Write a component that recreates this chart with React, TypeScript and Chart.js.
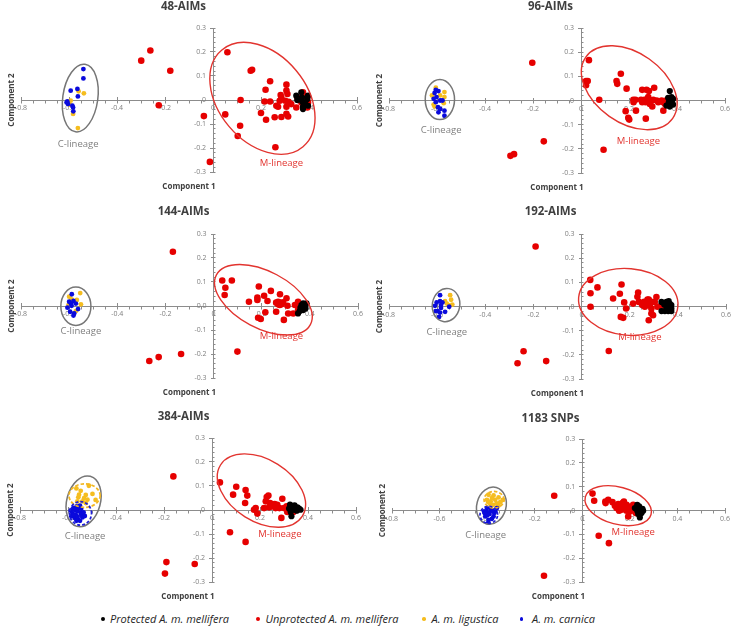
import React, { useEffect, useRef } from 'react';
import { Chart, registerables } from 'chart.js';

Chart.register(...registerables);
Chart.defaults.font.family = '"Open Sans", sans-serif';

type Pt = [number, number];
type Ell = { kind: string; cx: number; cy: number; rx: number; ry: number; rot: number };

// ---------- text ----------
const panelTitles = ['48-AIMs', '96-AIMs', '144-AIMs', '192-AIMs', '384-AIMs', '1183 SNPs'];
const seriesNames = ['Protected A. m. mellifera', 'Unprotected A. m. mellifera', 'A. m. ligustica', 'A. m. carnica'];
const xAxisTitle = 'Component 1';
const yAxisTitle = 'Component 2';
const cLineageText = 'C-lineage';
const mLineageText = 'M-lineage';

// ---------- ticks ----------
const xMajorTicks = [-0.8, -0.6, -0.4, -0.2, 0, 0.2, 0.4, 0.6];
const xTickLabels = ['-0.8', '-0.6', '-0.4', '-0.2', '0', '0.2', '0.4', '0.6'];
const yMajorTicks = [-0.3, -0.2, -0.1, 0, 0.1, 0.2, 0.3];
const yTickLabels = ['-0.3', '-0.2', '-0.1', '0', '0.1', '0.2', '0.3'];
const yTickLabels144 = ['-0.3', '-0.2', '-0.1', '0.0', '0.1', '0.2', '0.3'];
const xMinorParts = 4;
const yMinorParts = 5;

// ---------- 48-AIMs ----------
const protected48: Pt[] = [[0.347,0.018],[0.351,0],[0.368,0.032],[0.371,0.011],[0.372,-0.007],[0.375,-0.028],[0.375,-0.038],[0.393,0.004],[0.396,-0.024],[0.396,0.018],[0.385,-0.017]];
const unprotected48: Pt[] = [[-0.299,0.164],[-0.261,0.206],[-0.178,0.122],[-0.226,-0.022],[-0.038,-0.067],[-0.013,-0.258],[0.06,0.199],[0.051,-0.06],[0.115,0.0],[0.113,-0.107],[0.103,-0.15],[0.157,0.122],[0.163,0.126],[0.238,0.078],[0.219,0.043],[0.215,-0.006],[0.2,-0.054],[0.221,-0.082],[0.238,-0.006],[0.26,-0.197],[0.257,-0.072],[0.264,-0.024],[0.271,-0.028],[0.285,-0.071],[0.306,0.064],[0.306,0.039],[0.31,0.025],[0.282,0.021],[0.285,0.008],[0.301,-0.003],[0.306,-0.028],[0.306,-0.058],[0.313,-0.069],[0.326,-0.017],[0.347,-0.031],[0.351,0.011],[0.368,-0.01],[0.375,0.032],[0.385,0.0],[0.393,0.014],[0.396,-0.01],[0.393,-0.031],[0.278,-0.003],[0.315,-0.007]];
const ligustica48: Pt[] = [[-0.538,0.028],[-0.56,0.036],[-0.593,-0.003],[-0.583,-0.058],[-0.563,-0.117],[-0.597,-0.019]];
const carnica48: Pt[] = [[-0.54,0.129],[-0.54,0.09],[-0.593,0.039],[-0.565,0.046],[-0.563,0.015],[-0.607,-0.006],[-0.604,-0.017],[-0.586,-0.024],[-0.583,-0.031],[-0.582,-0.047],[-0.61,-0.01]];
const ellipses48: Ell[] = [{ kind: 'C', cx: -0.553, cy: 0.008, rx: 0.073, ry: 0.142, rot: -8 }, { kind: 'M', cx: 0.206, cy: 0.007, rx: 0.263, ry: 0.182, rot: -50 }];
const cLabel48: Pt = [-0.562, -0.186];
const mLabel48: Pt = [0.285, -0.263];

// ---------- 96-AIMs ----------
const protected96: Pt[] = [[0.37,0.039],[0.363,0.011],[0.366,-0.007],[0.37,-0.025],[0.377,0.014],[0.38,0.0],[0.384,-0.017],[0.374,0.003],[0.356,-0.021],[0.384,0.007]];
const unprotected96: Pt[] = [[-0.203,0.156],[-0.294,-0.229],[-0.279,-0.222],[-0.155,-0.169],[0.094,-0.204],[0.033,0.167],[0.021,0.081],[0.028,0.081],[0.021,0.063],[0.076,0.003],[0.148,0.081],[0.151,0.069],[0.166,0.111],[0.19,0.049],[0.186,-0.044],[0.197,-0.072],[0.201,-0.079],[0.218,0.003],[0.219,-0.007],[0.229,-0.042],[0.255,0.044],[0.273,0.044],[0.283,0.039],[0.305,0.053],[0.27,-0.075],[0.264,0.003],[0.269,-0.007],[0.277,0.007],[0.287,-0.014],[0.294,0.0],[0.297,-0.025],[0.315,0.0],[0.322,-0.007],[0.343,-0.042],[0.343,-0.007],[0.354,0.0],[0.361,-0.017],[0.336,0.0],[0.255,-0.007],[0.25,0.003],[0.227,0.003],[0.28,0.014],[0.301,0.003],[0.35,-0.014]];
const ligustica96: Pt[] = [[-0.605,0.053],[-0.569,0.035],[-0.569,0.014],[-0.572,-0.011],[-0.614,-0.017],[-0.621,0.021],[-0.587,0.021],[-0.61,-0.025]];
const carnica96: Pt[] = [[-0.61,0.031],[-0.605,0.044],[-0.594,0.039],[-0.602,0.014],[-0.587,0.0],[-0.605,-0.007],[-0.596,-0.028],[-0.587,-0.035],[-0.569,-0.042],[-0.569,-0.063],[-0.594,-0.049],[-0.577,0.0],[-0.614,0.007]];
const ellipses96: Ell[] = [{ kind: 'C', cx: -0.588, cy: 0.004, rx: 0.061, ry: 0.083, rot: 0 }, { kind: 'M', cx: 0.201, cy: 0.053, rx: 0.221, ry: 0.145, rot: -35 }];
const cLabel96: Pt = [-0.583, -0.125];
const mLabel96: Pt = [0.239, -0.169];

// ---------- 144-AIMs ----------
const protected144: Pt[] = [[0.365,0.004],[0.372,0.011],[0.379,0.004],[0.382,-0.01],[0.372,-0.017],[0.358,-0.021],[0.351,-0.031],[0.361,-0.007],[0.386,0.011]];
const unprotected144: Pt[] = [[-0.169,0.226],[-0.267,-0.229],[-0.228,-0.213],[-0.135,-0.2],[0.099,-0.19],[0.036,0.106],[0.076,0.106],[0.049,0.076],[0.046,0.046],[0.147,0.018],[0.188,0.081],[0.182,0.035],[0.182,0.025],[0.21,0.043],[0.224,0.021],[0.215,-0.026],[0.238,0.063],[0.185,-0.049],[0.196,-0.054],[0.276,0.049],[0.26,0.014],[0.268,0.007],[0.275,0.014],[0.282,0.007],[0.289,0.015],[0.26,-0.024],[0.292,-0.058],[0.303,0.032],[0.307,0.001],[0.31,-0.031],[0.331,-0.031],[0.338,0.004],[0.351,0.018],[0.351,-0.017],[0.372,-0.007],[0.275,0.004],[0.268,0.018]];
const ligustica144: Pt[] = [[-0.554,0.054],[-0.6,0.039],[-0.568,0.025],[-0.551,0.007],[-0.59,0.028],[-0.572,-0.021],[-0.603,0.004]];
const carnica144: Pt[] = [[-0.589,0.049],[-0.6,0.018],[-0.593,0.011],[-0.582,0.021],[-0.572,0.01],[-0.607,-0.007],[-0.596,-0.024],[-0.579,-0.031],[-0.582,-0.04],[-0.563,-0.013],[-0.59,0.001]];
const ellipses144: Ell[] = [{ kind: 'C', cx: -0.572, cy: -0.001, rx: 0.0625, ry: 0.08, rot: 0 }, { kind: 'M', cx: 0.207, cy: 0.026, rx: 0.221, ry: 0.118, rot: -28 }];
const cLabel144: Pt = [-0.551, -0.104];
const mLabel144: Pt = [0.282, -0.128];

// ---------- 192-AIMs ----------
const protected192: Pt[] = [[0.332,0.019],[0.343,0.008],[0.353,0.019],[0.362,0.022],[0.367,0.011],[0.373,0.006],[0.373,-0.008],[0.36,-0.019],[0.346,-0.019],[0.332,-0.019],[0.373,-0.019],[0.353,-0.001]];
const unprotected192: Pt[] = [[-0.191,0.248],[-0.241,-0.185],[-0.266,-0.235],[-0.147,-0.226],[0.113,-0.184],[0.036,0.11],[0.037,0.055],[0.037,-0.001],[0.066,0.079],[0.131,0.033],[0.166,0.091],[0.159,0.053],[0.177,0.017],[0.185,-0.008],[0.163,-0.043],[0.173,-0.047],[0.214,0.012],[0.235,0.058],[0.232,0.04],[0.238,0.019],[0.252,0.006],[0.26,0.019],[0.27,0.006],[0.279,0.029],[0.284,0.006],[0.29,-0.008],[0.29,-0.029],[0.297,-0.036],[0.279,-0.057],[0.304,0.019],[0.311,0.039],[0.315,-0.001],[0.332,0.006],[0.339,-0.008],[0.29,0.019],[0.367,-0.006],[0.353,-0.008],[0.263,-0.001],[0.274,0.029]];
const ligustica192: Pt[] = [[-0.546,0.047],[-0.542,0.028],[-0.56,0.012],[-0.567,0.022],[-0.537,0.008],[-0.553,0.006]];
const carnica192: Pt[] = [[-0.588,0.047],[-0.602,0.017],[-0.588,0.022],[-0.578,0.017],[-0.609,0.003],[-0.598,-0.019],[-0.588,-0.025],[-0.592,-0.043],[-0.567,-0.022],[-0.55,-0.001],[-0.584,-0.006],[-0.606,-0.019],[-0.584,0.006]];
const ellipses192: Ell[] = [{ kind: 'C', cx: -0.563, cy: 0.006, rx: 0.057, ry: 0.069, rot: -10 }, { kind: 'M', cx: 0.194, cy: 0.019, rx: 0.207, ry: 0.138, rot: -5 }];
const cLabel192: Pt = [-0.56, -0.105];
const mLabel192: Pt = [0.242, -0.126];

// ---------- 384-AIMs ----------
const protected384: Pt[] = [[0.325,0.022],[0.335,0.015],[0.344,0.019],[0.356,0.011],[0.363,0.006],[0.369,0.001],[0.342,0.001],[0.331,-0.026],[0.328,-0.008],[0.353,-0.003],[0.321,0.006]];
const unprotected384: Pt[] = [[-0.161,0.14],[-0.19,-0.217],[-0.196,-0.265],[-0.072,-0.225],[0.14,-0.133],[0.075,-0.093],[0.033,0.115],[0.088,0.064],[0.101,0.097],[0.14,0.083],[0.147,0.06],[0.138,0.029],[0.175,0.001],[0.182,0.008],[0.189,-0.015],[0.228,0.054],[0.235,0.06],[0.224,0.036],[0.217,0.008],[0.242,0.029],[0.251,0.022],[0.261,0.025],[0.272,0.022],[0.281,0.008],[0.293,0.047],[0.289,-0.033],[0.3,0.008],[0.311,0.015],[0.314,-0.008],[0.335,-0.003],[0.339,-0.008],[0.265,0.008],[0.247,0.015],[0.238,0.011]];
const ligustica384: Pt[] = [[-0.513,0.101],[-0.565,0.09],[-0.547,0.08],[-0.526,0.063],[-0.498,0.067],[-0.557,0.053],[-0.533,0.049],[-0.485,0.042],[-0.554,0.064],[-0.519,0.043],[-0.54,0.036],[-0.561,0.036],[-0.526,0.029]];
const carnica384: Pt[] = [[-0.589,-0.003],[-0.578,0.008],[-0.564,0.015],[-0.554,0.008],[-0.582,-0.013],[-0.568,-0.019],[-0.547,-0.013],[-0.572,-0.033],[-0.558,-0.04],[-0.54,-0.031],[-0.586,-0.026],[-0.55,0.018],[-0.57,0.0],[-0.56,-0.005],[-0.545,-0.02],[-0.535,-0.01],[-0.55,-0.045],[-0.565,-0.045],[-0.575,-0.02],[-0.53,-0.025],[-0.545,0.005],[-0.56,-0.028]];
const ellipses384: Ell[] = [{ kind: 'C', cx: -0.535, cy: 0.036, rx: 0.07, ry: 0.108, rot: -15 }, { kind: 'L', cx: -0.531, cy: 0.06, rx: 0.065, ry: 0.049, rot: 0 }, { kind: 'K', cx: -0.548, cy: -0.014, rx: 0.046, ry: 0.049, rot: 0 }, { kind: 'M', cx: 0.206, cy: 0.081, rx: 0.201, ry: 0.129, rot: -32 }];
const cLabel384: Pt = [-0.529, -0.11];
const mLabel384: Pt = [0.283, -0.103];

// ---------- 1183 SNPs ----------
const protected1183: Pt[] = [[0.221,0.01],[0.231,-0.001],[0.239,0.017],[0.245,0.003],[0.253,0.007],[0.235,-0.015],[0.242,-0.029],[0.249,-0.011],[0.256,-0.001],[0.231,0.024]];
const unprotected1183: Pt[] = [[-0.118,0.062],[-0.161,-0.274],[0.069,-0.106],[0.112,-0.137],[0.043,0.071],[0.05,0.041],[0.097,0.038],[0.098,0.031],[0.109,0.045],[0.127,0.035],[0.137,0.02],[0.144,0.01],[0.151,0.027],[0.161,0.017],[0.169,0.031],[0.175,0.038],[0.179,0.007],[0.186,-0.001],[0.165,0.003],[0.193,0.017],[0.2,-0.004],[0.207,0.007],[0.214,0.024],[0.218,-0.001],[0.225,-0.011],[0.193,-0.025],[0.235,0.01],[0.155,-0.001],[0.186,0.024]];
const ligustica1183: Pt[] = [[-0.394,0.066],[-0.373,0.063],[-0.352,0.055],[-0.401,0.045],[-0.385,0.038],[-0.366,0.045],[-0.345,0.035],[-0.352,0.021],[-0.373,0.024],[-0.387,0.027],[-0.334,0.045],[-0.38,0.052],[-0.36,0.03],[-0.395,0.035]];
const carnica1183: Pt[] = [[-0.413,-0.004],[-0.401,0.01],[-0.385,0.007],[-0.366,-0.004],[-0.408,-0.025],[-0.39,-0.015],[-0.373,-0.025],[-0.394,-0.039],[-0.385,-0.001],[-0.401,-0.007],[-0.359,0.01],[-0.4,-0.02],[-0.38,-0.035],[-0.41,-0.012],[-0.37,-0.01],[-0.395,-0.05],[-0.378,0.0]];
const ellipses1183: Ell[] = [{ kind: 'C', cx: -0.382, cy: 0.02, rx: 0.0615, ry: 0.079, rot: -15 }, { kind: 'L', cx: -0.371, cy: 0.045, rx: 0.042, ry: 0.035, rot: 0 }, { kind: 'K', cx: -0.393, cy: -0.018, rx: 0.037, ry: 0.036, rot: 0 }, { kind: 'M', cx: 0.151, cy: 0.02, rx: 0.143, ry: 0.078, rot: -15 }];
const cLabel1183: Pt = [-0.406, -0.106];
const mLabel1183: Pt = [0.214, -0.091];

const panels = [
  { title: panelTitles[0], prot: protected48, unprot: unprotected48, lig: ligustica48, carn: carnica48, ellipses: ellipses48, cLabel: cLabel48, mLabel: mLabel48, yLabels: yTickLabels },
  { title: panelTitles[1], prot: protected96, unprot: unprotected96, lig: ligustica96, carn: carnica96, ellipses: ellipses96, cLabel: cLabel96, mLabel: mLabel96, yLabels: yTickLabels },
  { title: panelTitles[2], prot: protected144, unprot: unprotected144, lig: ligustica144, carn: carnica144, ellipses: ellipses144, cLabel: cLabel144, mLabel: mLabel144, yLabels: yTickLabels144 },
  { title: panelTitles[3], prot: protected192, unprot: unprotected192, lig: ligustica192, carn: carnica192, ellipses: ellipses192, cLabel: cLabel192, mLabel: mLabel192, yLabels: yTickLabels },
  { title: panelTitles[4], prot: protected384, unprot: unprotected384, lig: ligustica384, carn: carnica384, ellipses: ellipses384, cLabel: cLabel384, mLabel: mLabel384, yLabels: yTickLabels },
  { title: panelTitles[5], prot: protected1183, unprot: unprotected1183, lig: ligustica1183, carn: carnica1183, ellipses: ellipses1183, cLabel: cLabel1183, mLabel: mLabel1183, yLabels: yTickLabels },
];

// ---------- layout & style (not data) ----------
const panelLayout = [
  { left: 0, top: 0, width: 367, height: 205, pad: { left: 21, right: 10, top: 28, bottom: 33 }, titleY: 7 },
  { left: 367, top: 0, width: 367, height: 205, pad: { left: 22, right: 9, top: 28, bottom: 32 }, titleY: 7 },
  { left: 0, top: 205, width: 367, height: 200, pad: { left: 21, right: 9, top: 29, bottom: 27 }, titleY: 7 },
  { left: 367, top: 205, width: 367, height: 200, pad: { left: 22, right: 8, top: 29, bottom: 26 }, titleY: 7 },
  { left: 0, top: 405, width: 367, height: 200, pad: { left: 20, right: 11, top: 33, bottom: 23 }, titleY: 12 },
  { left: 367, top: 405, width: 367, height: 200, pad: { left: 25, right: 9, top: 34, bottom: 23 }, titleY: 14 },
];
const seriesColors = ['#000000', '#e60000', '#f5bd1f', '#0a0adc'];
const ellipseStyles: Record<string, { color: string; width: number; dash: number[] }> = {
  C: { color: '#767676', width: 1.5, dash: [] },
  M: { color: '#e2342f', width: 1.4, dash: [] },
  L: { color: '#f2b722', width: 1.7, dash: [3.5, 2] },
  K: { color: '#1f1fd6', width: 1.7, dash: [3, 2] },
};
const axisColor = '#8c8c8c';
const tickLabelColor = '#7f7f7f';
const legendLayout = [
  { dotX: 103, textX: 110, dot: 4.5 },
  { dotX: 258, textX: 265.5, dot: 4.5 },
  { dotX: 424, textX: 431.5, dot: 3.5 },
  { dotX: 521.5, textX: 532, dot: 3.5 },
];
const legendY = 619;

function buildMinor(majors: number[], parts: number): number[] {
  const out: number[] = [];
  for (let i = 0; i < majors.length - 1; i++) {
    for (let k = 0; k < parts; k++) out.push(majors[i] + ((majors[i + 1] - majors[i]) * k) / parts);
  }
  out.push(majors[majors.length - 1]);
  return out;
}
const findMajor = (arr: number[], v: number) => arr.findIndex((m) => Math.abs(m - v) < 1e-9);

function makeDecor(p: any, lay: any) {
  return {
    id: 'panelDecor',
    afterDatasetsDraw(chart: any) {
      const { ctx, chartArea } = chart;
      const xs = chart.scales.x;
      const ys = chart.scales.y;
      const sx = xs.getPixelForValue(1) - xs.getPixelForValue(0);
      const sy = ys.getPixelForValue(0) - ys.getPixelForValue(1);
      p.ellipses.forEach((e: Ell) => {
        const st = ellipseStyles[e.kind];
        ctx.save();
        ctx.beginPath();
        ctx.translate(xs.getPixelForValue(e.cx), ys.getPixelForValue(e.cy));
        ctx.scale(sx, -sy);
        ctx.rotate((e.rot * Math.PI) / 180);
        ctx.ellipse(0, 0, e.rx, e.ry, 0, 0, Math.PI * 2);
        ctx.restore();
        ctx.save();
        ctx.strokeStyle = st.color;
        ctx.lineWidth = st.width;
        ctx.setLineDash(st.dash);
        ctx.stroke();
        ctx.restore();
      });
      ctx.save();
      ctx.textAlign = 'center';
      ctx.textBaseline = 'middle';
      ctx.font = '9.5px "Open Sans"';
      ctx.fillStyle = '#808080';
      ctx.fillText(cLineageText, xs.getPixelForValue(p.cLabel[0]), ys.getPixelForValue(p.cLabel[1]));
      ctx.fillStyle = '#e2342f';
      ctx.fillText(mLineageText, xs.getPixelForValue(p.mLabel[0]), ys.getPixelForValue(p.mLabel[1]));
      ctx.fillStyle = '#404040';
      ctx.font = 'bold 11.5px "Open Sans"';
      ctx.fillText(p.title, chart.width / 2, lay.titleY);
      ctx.font = 'bold 8px "Open Sans"';
      ctx.fillText(xAxisTitle, (chartArea.left + chartArea.right) / 2, chartArea.bottom + 15);
      ctx.translate(chartArea.left - 9, (chartArea.top + chartArea.bottom) / 2);
      ctx.rotate(-Math.PI / 2);
      ctx.fillText(yAxisTitle, 0, 0);
      ctx.restore();
    },
  };
}

function makeConfig(p: any, lay: any): any {
  const xMinor = buildMinor(xMajorTicks, xMinorParts);
  const yMinor = buildMinor(yMajorTicks, yMinorParts);
  const tickFont = { size: 7, family: '"Open Sans"' };
  const ds = (label: string, data: Pt[], color: string, r: number) => ({
    label, data, backgroundColor: color, borderColor: color, borderWidth: 0, pointRadius: r, pointHoverRadius: r,
  });
  return {
    type: 'scatter',
    data: {
      datasets: [
        ds(seriesNames[0], p.prot, seriesColors[0], 3.1),
        ds(seriesNames[1], p.unprot, seriesColors[1], 3.3),
        ds(seriesNames[3], p.carn, seriesColors[3], 2.4),
        ds(seriesNames[2], p.lig, seriesColors[2], 2.4),
      ],
    },
    options: {
      responsive: false,
      animation: false,
      events: [],
      layout: { padding: lay.pad },
      plugins: { legend: { display: false }, tooltip: { enabled: false }, title: { display: false } },
      scales: {
        x: {
          type: 'linear', min: -0.8, max: 0.6, position: { y: 0 },
          afterBuildTicks: (a: any) => { a.ticks = xMinor.map((v) => ({ value: v })); },
          ticks: {
            autoSkip: false, maxRotation: 0, minRotation: 0, padding: 1.5, color: tickLabelColor, font: tickFont,
            callback: (v: number) => { const i = findMajor(xMajorTicks, v); return i >= 0 ? xTickLabels[i] : ''; },
          },
          grid: { display: true, drawOnChartArea: false, drawTicks: true, tickLength: 2.5, tickColor: axisColor },
          border: { display: true, color: axisColor, width: 1 },
        },
        xMajor: {
          type: 'linear', axis: 'x', min: -0.8, max: 0.6, position: { y: 0 },
          afterBuildTicks: (a: any) => { a.ticks = xMajorTicks.map((v) => ({ value: v })); },
          ticks: { display: false },
          grid: { display: true, drawOnChartArea: false, drawTicks: true, tickLength: -3, tickColor: axisColor },
          border: { display: false },
        },
        y: {
          type: 'linear', min: -0.3, max: 0.3, position: { x: 0 },
          afterBuildTicks: (a: any) => { a.ticks = yMinor.map((v) => ({ value: v })); },
          ticks: {
            autoSkip: false, padding: 2, color: tickLabelColor, font: tickFont,
            callback: (v: number) => { const i = findMajor(yMajorTicks, v); return i >= 0 ? p.yLabels[i] + '\u2002\u2002' : ''; },
          },
          grid: { display: true, drawOnChartArea: false, drawTicks: true, tickLength: -2.5, tickColor: axisColor },
          border: { display: true, color: axisColor, width: 1 },
        },
        yMajor: {
          type: 'linear', axis: 'y', min: -0.3, max: 0.3, position: { x: 0 },
          afterBuildTicks: (a: any) => { a.ticks = yMajorTicks.map((v) => ({ value: v })); },
          ticks: { display: false },
          grid: { display: true, drawOnChartArea: false, drawTicks: true, tickLength: 3, tickColor: axisColor },
          border: { display: false },
        },
      },
    },
    plugins: [makeDecor(p, lay)],
  };
}

export default function App() {
  const refs = useRef<(HTMLCanvasElement | null)[]>([]);
  useEffect(() => {
    const charts = panels.map((p, i) => new Chart(refs.current[i] as HTMLCanvasElement, makeConfig(p, panelLayout[i])));
    return () => charts.forEach((c) => c.destroy());
  }, []);
  return (
    <div style={{ position: 'absolute', left: 0, top: 0, width: 734, height: 629, background: '#fff', overflow: 'hidden', fontFamily: '"Open Sans", sans-serif' }}>
      {panels.map((p, i) => (
        <canvas
          key={p.title}
          ref={(el) => { refs.current[i] = el; }}
          width={panelLayout[i].width}
          height={panelLayout[i].height}
          style={{ position: 'absolute', left: panelLayout[i].left, top: panelLayout[i].top, width: panelLayout[i].width, height: panelLayout[i].height, display: 'block' }}
        />
      ))}
      {seriesNames.map((name, i) => (
        <React.Fragment key={name}>
          <span style={{ position: 'absolute', left: legendLayout[i].dotX - legendLayout[i].dot / 2, top: legendY - legendLayout[i].dot / 2, width: legendLayout[i].dot, height: legendLayout[i].dot, borderRadius: '50%', background: seriesColors[i] }} />
          <span style={{ position: 'absolute', left: legendLayout[i].textX, top: legendY - 8, fontSize: 11, lineHeight: '16px', fontStyle: 'italic', color: '#262626', whiteSpace: 'nowrap' }}>{name}</span>
        </React.Fragment>
      ))}
    </div>
  );
}
